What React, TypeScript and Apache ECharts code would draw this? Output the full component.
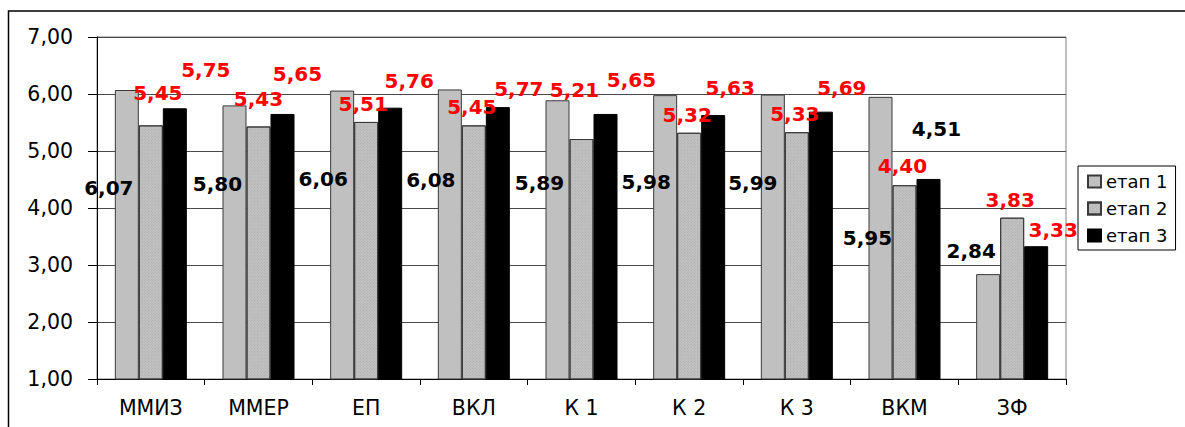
import React, { useEffect, useRef } from "react";
import * as echarts from "echarts";

// Categories and stage scores
const categories = ["ММИЗ", "ММЕР", "ЕП", "ВКЛ", "К 1", "К 2", "К 3", "ВКМ", "ЗФ"];
const seriesNames = ["етап 1", "етап 2", "етап 3"];
const stage1 = [6.07, 5.8, 6.06, 6.08, 5.89, 5.98, 5.99, 5.95, 2.84];
const stage2 = [5.45, 5.43, 5.51, 5.45, 5.21, 5.32, 5.33, 4.4, 3.83];
const stage3 = [5.75, 5.65, 5.76, 5.77, 5.65, 5.63, 5.69, 4.51, 3.33];

// Value axis range
const yMin = 1;
const yMax = 7;
const yStep = 1;

// Label placement: offset of each label centre from the top centre of its bar
const stage1LabelOffsets = [
  [-18, 98], [-17, 79], [-19, 88], [-19, 91], [-18, 83],
  [-19, 87], [-20, 88], [-13, 141], [-17, -23],
];
const stage2LabelOffsets = [
  [7, -32], [0, -27], [-3, -18], [-2, -18], [-7, -49],
  [-2, -18], [-2, -18], [-2, -19], [-2, -18],
];
const stage3LabelOffsets = [
  [31, -38], [15, -40], [19, -27], [21, -18], [26, -34],
  [17, -27], [21, -24], [8, -50], [17, -16],
];
// Label colours per series (the ВКМ stage-3 value is printed in black)
const stage3LabelColors = ["red", "red", "red", "red", "red", "red", "red", "#000", "red"];

const fmt = (v: number) => v.toFixed(2).replace(".", ",");

const FONT = "DejaVu Sans";

function buildData(values: number[], offsets: number[][], colors: string[]) {
  return values.map((v, i) => ({
    value: v,
    label: { offset: offsets[i], color: colors[i] },
  }));
}

export default function App() {
  const ref = useRef<HTMLDivElement>(null);

  useEffect(() => {
    if (!ref.current) return;
    const chart = echarts.init(ref.current, undefined, { renderer: "svg" });

    const baseLabel = {
      show: true,
      position: "top",
      distance: 0,
      verticalAlign: "middle",
      align: "center",
      fontFamily: FONT,
      fontWeight: "bold",
      fontSize: 20,
      formatter: (p: any) => fmt(p.value),
    };

    chart.setOption({
      animation: false,
      backgroundColor: "#fff",
      grid: {
        left: 97,
        right: 119,
        top: 37,
        bottom: 48,
        show: true,
        borderColor: "#808080",
        borderWidth: 1,
        backgroundColor: "transparent",
      },
      legend: {
        data: seriesNames,
        orient: "vertical",
        left: 1078,
        top: 166,
        padding: [6, 8, 5, 9],
        itemGap: 8,
        itemWidth: 13,
        itemHeight: 12,
        borderColor: "#000",
        borderWidth: 1,
        icon: "rect",
        textStyle: { fontFamily: FONT, fontSize: 18, color: "#000", lineHeight: 19 },
      },
      graphic: [
        {
          type: "rect",
          shape: { x: 8.5, y: 11, width: 1300, height: 600 },
          style: { fill: "none", stroke: "#000", lineWidth: 1.5 },
          silent: true,
        },
      ],
      xAxis: {
        type: "category",
        data: categories,
        axisLine: { lineStyle: { color: "#000", width: 1 } },
        axisTick: { show: true, length: 6, lineStyle: { color: "#000" } },
        axisLabel: { fontFamily: FONT, fontSize: 20.5, color: "#000", margin: 18 },
      },
      yAxis: {
        type: "value",
        min: yMin,
        max: yMax,
        interval: yStep,
        axisLine: { show: true, lineStyle: { color: "#000", width: 1 } },
        axisTick: { show: true, length: 9, lineStyle: { color: "#000" } },
        axisLabel: {
          fontFamily: FONT,
          fontSize: 20.5,
          color: "#000",
          margin: 24,
          formatter: (v: number) => fmt(v),
        },
        splitLine: { lineStyle: { color: "#4a4a4a", width: 1 } },
      },
      series: [
        {
          name: seriesNames[0],
          type: "bar",
          barWidth: 24,
          barGap: "0%",
          itemStyle: { color: "#c0c0c0", borderColor: "#3a3a3a", borderWidth: 1 },
          label: { ...baseLabel, color: "#000" },
          data: buildData(stage1, stage1LabelOffsets, stage1.map(() => "#000")),
        },
        {
          name: seriesNames[1],
          type: "bar",
          barWidth: 24,
          barGap: "0%",
          itemStyle: {
            color: "#c2c2c2",
            borderColor: "#3a3a3a",
            borderWidth: 1,
            decal: {
              symbol: "rect",
              symbolSize: 1,
              dashArrayX: [1, 1],
              dashArrayY: [1, 1],
              rotation: Math.PI / 4,
              color: "rgba(130,130,130,0.35)",
            },
          },
          label: { ...baseLabel, color: "red" },
          data: buildData(stage2, stage2LabelOffsets, stage2.map(() => "red")),
        },
        {
          name: seriesNames[2],
          type: "bar",
          barWidth: 24,
          barGap: "0%",
          itemStyle: { color: "#000", borderColor: "#000", borderWidth: 1 },
          label: { ...baseLabel, color: "red" },
          data: buildData(stage3, stage3LabelOffsets, stage3LabelColors),
        },
      ],
    });

    return () => chart.dispose();
  }, []);

  return (
    <div
      ref={ref}
      style={{ position: "absolute", left: 0, top: 0, width: 1185, height: 427 }}
    />
  );
}
